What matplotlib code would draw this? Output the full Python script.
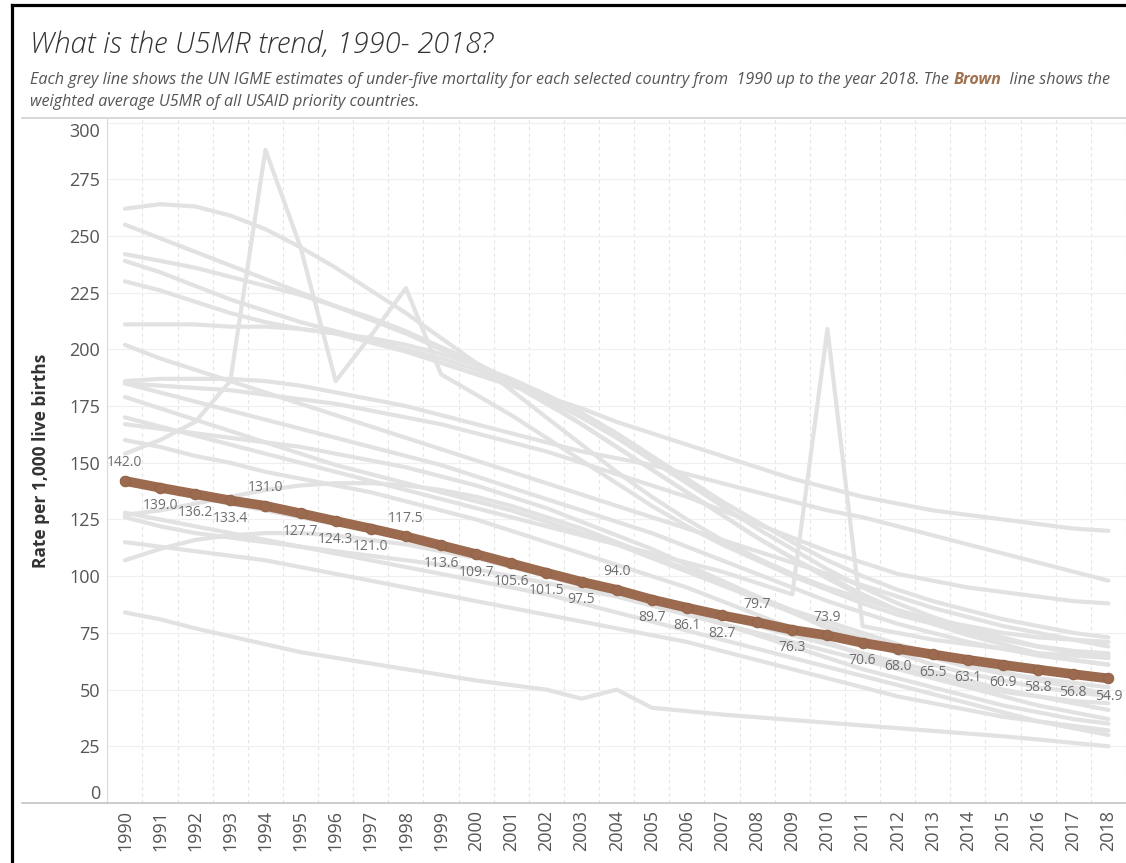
import matplotlib
matplotlib.use('Agg')
import matplotlib.pyplot as plt
from matplotlib.lines import Line2D
import numpy as np

plt.rcParams['font.family'] = ['Open Sans', 'DejaVu Sans']

years = list(range(1990, 2019))

# weighted average U5MR of all USAID priority countries (brown line)
avg_u5mr = [142.0, 139.0, 136.2, 133.4, 131.0, 127.7, 124.3, 121.0, 117.5, 113.6,
            109.7, 105.6, 101.5, 97.5, 94.0, 89.7, 86.1, 82.7, 79.7, 76.3,
            73.9, 70.6, 68.0, 65.5, 63.1, 60.9, 58.8, 56.8, 54.9]

# single countries (grey lines)
c01 = [262, 264, 263, 259, 253, 245, 236, 226, 216, 205, 194, 182, 170, 158, 146,
       135, 125, 116, 108, 101, 95, 90, 85, 81, 78, 75, 73, 72, 71]
c02 = [255, 249, 243, 237, 231, 225, 219, 213, 207, 200, 193, 185, 176, 167, 157,
       147, 137, 127, 117, 108, 99, 91, 85, 80, 76, 72, 69, 67, 66]
c03 = [242, 239, 236, 232, 228, 224, 219, 214, 208, 201, 194, 186, 177, 167, 157,
       147, 137, 127, 117, 108, 100, 92, 85, 79, 74, 70, 66, 63, 61]
c04 = [239, 234, 228, 222, 217, 212, 208, 204, 200, 196, 191, 185, 178, 170, 161,
       151, 141, 131, 121, 112, 103, 95, 88, 82, 77, 73, 69, 66, 64]
c05 = [230, 226, 221, 216, 212, 209, 207, 205, 202, 198, 193, 187, 180, 172, 163,
       153, 143, 133, 124, 115, 107, 100, 94, 89, 85, 81, 78, 75, 73]
c06 = [211, 211, 211, 210, 210, 209, 207, 203, 199, 194, 189, 184, 179, 174, 168,
       163, 158, 153, 148, 143, 139, 135, 132, 129, 127, 125, 123, 121, 120]
c07 = [202, 196, 191, 186, 181, 176, 171, 166, 161, 156, 151, 146, 141, 136, 131,
       126, 121, 116, 111, 106, 101, 96, 91, 86, 82, 78, 75, 72, 69]
c08 = [186, 187, 187, 187, 186, 184, 181, 178, 175, 171, 167, 163, 159, 155, 152,
       149, 145, 141, 137, 133, 129, 126, 122, 118, 114, 110, 106, 102, 98]
c09 = [185, 184, 183, 182, 180, 178, 176, 173, 170, 167, 163, 159, 155, 150, 145,
       140, 135, 129, 123, 117, 111, 106, 101, 98, 95, 93, 91, 89, 88]
c10 = [179, 174, 169, 164, 159, 154, 149, 145, 141, 137, 133, 129, 124, 119, 114,
       108, 102, 96, 90, 84, 78, 73, 68, 64, 60, 57, 55, 53, 51]
c11 = [167, 165, 163, 161, 159, 157, 154, 151, 148, 144, 140, 135, 130, 124, 118,
       112, 105, 98, 91, 84, 77, 71, 66, 61, 57, 54, 51, 49, 47]
c12 = [160, 157, 153, 150, 146, 143, 140, 137, 133, 129, 125, 120, 115, 110, 105,
       100, 95, 89, 83, 77, 71, 65, 60, 56, 52, 49, 47, 45, 44]
c13 = [154, 160, 168, 186, 288, 245, 186, 206, 227, 189, 180, 171, 161, 151, 141,
       131, 122, 114, 107, 100, 94, 88, 83, 79, 75, 72, 69, 67, 65]
c14 = [141, 138, 135, 132, 129, 126, 123, 120, 117, 114, 110, 106, 102, 98, 94,
       90, 86, 82, 78, 74, 70, 66, 62, 58, 54, 50, 47, 44, 41]
c15 = [127, 129, 132, 135, 138, 140, 141, 141, 140, 138, 135, 131, 126, 121, 115,
       109, 103, 97, 91, 85, 80, 75, 70, 66, 62, 58, 54, 51, 48]
c16 = [126, 122, 119, 117, 115, 113, 111, 109, 107, 105, 103, 100, 97, 94, 91,
       87, 83, 79, 75, 71, 67, 63, 59, 55, 51, 47, 43, 40, 37]
c17 = [115, 113, 111, 109, 107, 104, 101, 98, 95, 92, 89, 86, 83, 80, 77,
       74, 71, 67, 63, 59, 55, 51, 47, 44, 41, 38, 36, 34, 32]
c18 = [107, 112, 116, 118, 119, 119, 118, 116, 114, 111, 108, 104, 100, 96, 92,
       88, 84, 79, 74, 69, 64, 59, 55, 51, 47, 43, 40, 37, 35]
c19 = [84, 81, 77, 73.5, 70, 66.5, 64, 61.5, 59, 56.5, 54, 52, 50, 46, 50,
       42, 40.5, 39, 37.8, 36.6, 35.4, 34.2, 33, 31.8, 30.6, 29.4, 28, 26.5, 25]
c20 = [170, 166, 162, 158, 154, 150, 146, 142, 138, 134, 130, 126, 122, 118, 114,
       110, 106, 102, 97, 92, 209, 78, 75, 72, 70, 68, 66, 65, 64]
c21 = [185, 181, 177, 173, 169, 165, 161, 157, 153, 149, 144, 139, 134, 129, 124,
       119, 113, 107, 101, 95, 89, 84, 79, 75, 71, 68, 65, 63, 61]
c22 = [128, 125, 122, 119, 116, 113, 110, 107, 104, 101, 98, 95, 92, 88, 84,
       80, 76, 72, 68, 64, 60, 56, 52, 48, 44, 40, 36, 33, 30]

countries = [c01, c02, c03, c04, c05, c06, c07, c08, c09, c10, c11,
             c12, c13, c14, c15, c16, c17, c18, c19, c20, c21, c22]

# years whose value label sits above the brown line
labels_above = [1990, 1994, 1998, 2004, 2008, 2010]

W, H = 1126, 863
fig = plt.figure(figsize=(W / 100, H / 100), dpi=100)
ax = fig.add_axes([107 / W, 1 - 803 / H, 1 - 107 / W, (803 - 118) / H])

for c in countries:
    ax.plot(years, c, color='#e2e2e2', lw=3.0, solid_joinstyle='round',
            solid_capstyle='round', zorder=2)

brown = '#9c6b4f'
ax.plot(years, avg_u5mr, color=brown, lw=7, marker='o', ms=7.5,
        mfc=brown, mec='#93654a', mew=0.8, solid_capstyle='round', zorder=4)

for yr, v in zip(years, avg_u5mr):
    dy = 13 if yr in labels_above else -13
    ax.annotate(f'{v:.1f}', (yr, v), xytext=(0, dy), textcoords='offset points',
                ha='center', va='center', fontsize=10, color='#6e6e6e', zorder=5,
                annotation_clip=False)

ax.set_xlim(1989.49, 2018.4)
ax.set_ylim(0, 302)

ax.set_yticks(range(0, 301, 25))
ax.set_xticks(years)
ax.set_xticklabels([str(y) for y in years], rotation=90)
ax.set_xticks(np.arange(1989.5, 2018.6, 1), minor=True)
ax.tick_params(axis='both', which='both', length=0, labelsize=13,
               labelcolor='#555555')
ax.tick_params(axis='y', pad=5)
ax.tick_params(axis='x', pad=5)
ylabels = ax.get_yticklabels()
ylabels[0].set_va('bottom')
ylabels[-1].set_va('top')

ax.grid(which='major', axis='y', color='#f0f0f0', lw=0.9, zorder=0)
ax.grid(which='minor', axis='x', color='#e4e4e4', lw=0.8, ls=(0, (3, 3)), zorder=0)
ax.set_axisbelow(True)

for s in ['top', 'right']:
    ax.spines[s].set_visible(False)
ax.spines['left'].set_color('#d9d9d9')
ax.spines['bottom'].set_color('#c8c8c8')
ax.spines['bottom'].set_linewidth(1.3)

ax.set_ylabel('Rate per 1,000 live births', fontsize=12.5, fontweight='bold',
              color='#333333')
ax.yaxis.set_label_coords(-(107 - 50) / (W - 107), 0.5)

# pane borders
fig.add_artist(Line2D([22 / W, 1], [1 - 118 / H] * 2, color='#d6d6d6', lw=1.3))
fig.add_artist(Line2D([22 / W, 107 / W], [1 - 803 / H] * 2, color='#c8c8c8', lw=1.3))

# black frame, top and left
fig.add_artist(Line2D([11.5 / W, 11.5 / W], [0, 1 - 5.5 / H], color='black', lw=2.3))
fig.add_artist(Line2D([11.5 / W, 1], [1 - 5.5 / H] * 2, color='black', lw=2.3))

# title and subtitle
fig.text(30 / W, 1 - 45 / H, 'What is the U5MR trend, 1990- 2018?', fontsize=21,
         fontstyle='italic', fontweight='light', color='#333333', va='center')

fs = 11.6
sub_kw = dict(fontsize=fs, fontstyle='italic', color='#555555', va='baseline')
base1 = 1 - 84 / H
t1 = fig.text(30 / W, base1, 'Each grey line shows the UN IGME estimates of '
              'under-five mortality for each selected country from  1990 up to '
              'the year 2018. The ', **sub_kw)
fig.canvas.draw()
x1 = t1.get_window_extent().x1 / W
t2 = fig.text(x1, base1, 'Brown', fontsize=fs, fontstyle='italic',
              fontweight='bold', color='#a0714f', va='baseline')
fig.canvas.draw()
x2 = t2.get_window_extent().x1 / W
fig.text(x2, base1, '  line shows the', **sub_kw)
fig.text(30 / W, 1 - 106 / H, 'weighted average U5MR of all USAID priority countries.',
         **sub_kw)

fig.savefig('out.png', dpi=100)
